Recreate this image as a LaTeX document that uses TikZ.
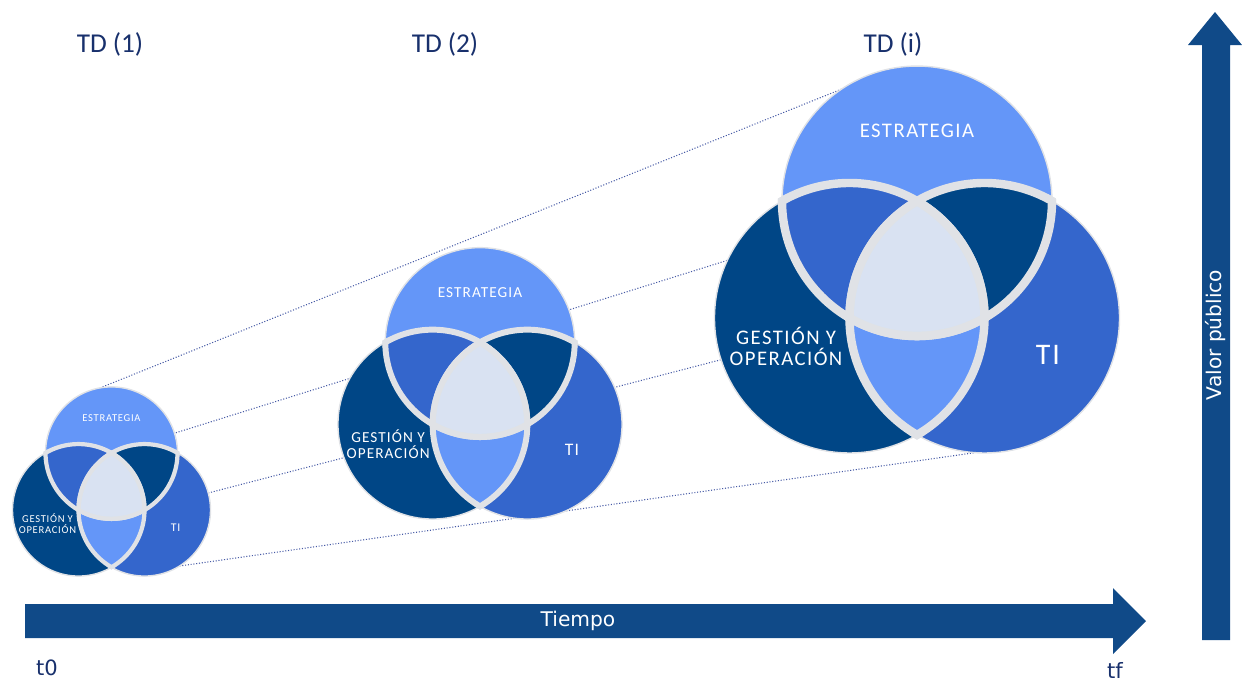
\documentclass[tikz,border=0pt]{standalone}
\usepackage{fontspec}
\setmainfont{Carlito}
\newfontfamily\vennfont[LetterSpace=7]{Carlito}
\newfontfamily\axisfont{DejaVu Sans}
\usetikzlibrary{calc,backgrounds}
\definecolor{estlight}{RGB}{100,150,248}
\definecolor{estmid}{RGB}{52,102,204}
\definecolor{estdark}{RGB}{0,70,134}
\definecolor{estcore}{RGB}{217,226,242}
\definecolor{gapgray}{RGB}{224,226,230}
\definecolor{axisblue}{RGB}{16,74,136}
\definecolor{tdnavy}{RGB}{24,48,108}
\definecolor{linkblue}{RGB}{70,90,165}
\tikzset{
  vennlabel/.style={text=white, align=center, inner sep=0pt},
  gapline/.style={draw=gapgray},
  linkline/.style={draw=linkblue, densely dotted, line width=0.6pt},
  axisarrow/.style={fill=axisblue},
  axislabel/.style={text=white, font=\axisfont\fontsize{11.5}{14}\selectfont},
  timelabel/.style={text=tdnavy, font=\axisfont\fontsize{12}{14}\selectfont},
  tdtitle/.style={text=tdnavy, font=\fontsize{15.5}{18}\selectfont}
}
\newcommand{\tdvenn}[7]{%
  \begin{scope}[shift={(#2,#3)}]
    \coordinate (#1-e) at (0,{-0.5774*#4});
    \coordinate (#1-g) at ({-0.5*#4},{0.2887*#4});
    \coordinate (#1-t) at ({0.5*#4},{0.2887*#4});
    \fill[estlight] (#1-e) circle (#4);
    \fill[estdark] (#1-g) circle (#4);
    \fill[estmid] (#1-t) circle (#4);
    \begin{scope}
      \clip (#1-e) circle (#4);
      \fill[estmid] (#1-g) circle (#4);
      \fill[estdark] (#1-t) circle (#4);
    \end{scope}
    \begin{scope}
      \clip (#1-g) circle (#4);
      \fill[estlight] (#1-t) circle (#4);
      \clip (#1-e) circle (#4);
      \fill[estcore] (#1-t) circle (#4);
    \end{scope}
    \foreach \circname in {e,g,t}
      \draw[gapline, line width=0.8pt] (#1-\circname) circle (#4);
    \foreach \circname/\clipname in {e/g,e/t,g/e,g/t,t/e,t/g}{
      \begin{scope}
        \clip (#1-\clipname) circle ({1.03*#4});
        \draw[gapline, line width=#7] (#1-\circname) circle (#4);
      \end{scope}}
    \pgfmathsetmacro\vennskip{1.05*#5}
    \node[vennlabel, font=\vennfont\fontsize{#5}{\vennskip}\selectfont] (#1-estrategia) at (0,{-1.1*#4}) {ESTRATEGIA};
    \node[vennlabel, font=\vennfont\fontsize{#5}{\vennskip}\selectfont] (#1-gestion) at ({-0.97*#4},{0.5*#4}) {GESTIÓN Y\\OPERACIÓN};
    \node[vennlabel, font=\vennfont\fontsize{#6}{#6}\selectfont] (#1-ti) at ({0.97*#4},{0.56*#4}) {TI};
  \end{scope}}

\begin{document}
\begin{tikzpicture}[x=0.02cm,y=-0.02cm]
  \useasboundingbox (0,0) rectangle (1242,681);
  \foreach \x/\i in {110/1,445/2,893/i}
    \node[tdtitle] (td\i) at (\x,44) {TD (\i)};

  \tdvenn{s}{111.5}{491}{66}{6}{6.7}{2.4pt}
  \tdvenn{m}{480}{397}{94.7}{8.7}{10}{3.4pt}
  \tdvenn{l}{917}{279}{135}{11.8}{17}{4.8pt}

  \begin{scope}[on background layer]
    \draw[linkline] ($(s-e)+(260:66)$) -- ($(l-e)+(236:135)$);
    \draw[linkline] (s-e) -- (l-e);
    \draw[linkline] ($(s-t)+(-15:66)$) -- ($(l-g)+(162:135)$);
    \draw[linkline] ($(s-t)+(58:66)$) -- ($(l-t)+(94:135)$);
  \end{scope}

  \fill[axisarrow] (25,604) -- (1113,604) -- (1113,588) -- (1146,621) -- (1113,654) -- (1113,638) -- (25,638) -- cycle;
  \node[axislabel] (tiempo) at (578,621) {Tiempo};
  \fill[axisarrow] (1202,640) -- (1202,45) -- (1188,45) -- (1215,12) -- (1242,45) -- (1230,45) -- (1230,640) -- cycle;
  \node[axislabel, rotate=90] (valor) at (1216,335) {Valor público};

  \node[timelabel] (t0) at (47,668) {t0};
  \node[timelabel] (tf) at (1115,670) {tf};
\end{tikzpicture}
\end{document}
